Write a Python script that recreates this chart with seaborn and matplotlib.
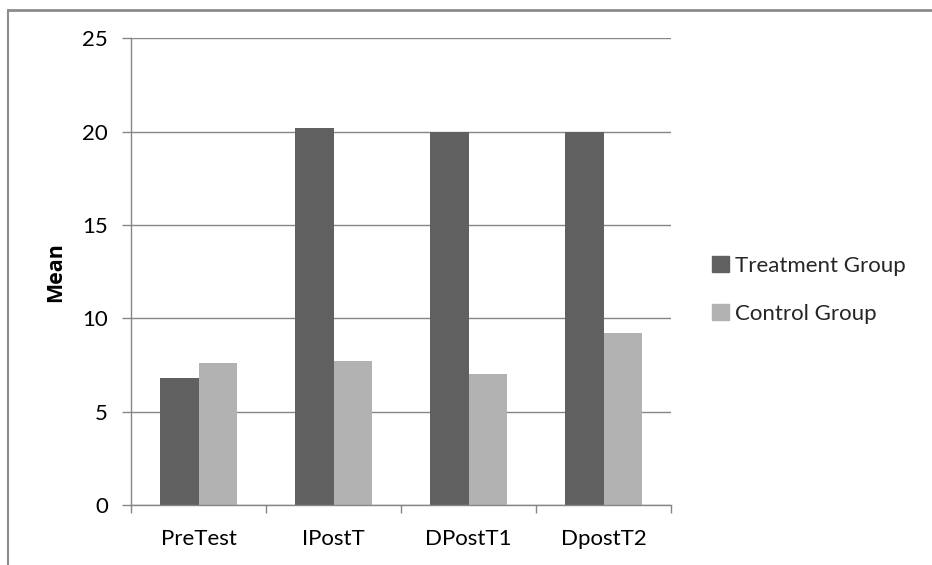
import matplotlib
matplotlib.use("Agg")
import matplotlib.pyplot as plt
import numpy as np
import pandas as pd
import seaborn as sns
from matplotlib.lines import Line2D
from matplotlib.ticker import FixedLocator

# data
tests = ["PreTest", "IPostT", "DPostT1", "DpostT2"]
treatment = [6.8, 20.2, 20.0, 20.0]
control = [7.6, 7.7, 7.0, 9.2]
groups = ["Treatment Group", "Control Group"]

df = pd.DataFrame({
    "test": tests * 2,
    "mean": treatment + control,
    "group": [groups[0]] * len(tests) + [groups[1]] * len(tests),
})

sns.set_theme(style="white")
plt.rcParams["font.family"] = ["Lato", "DejaVu Sans"]

fig = plt.figure(figsize=(9.32, 5.65), dpi=100)
ax = fig.add_axes([0.1406, 0.1062, 0.5794, 0.8257])

palette = {groups[0]: "#606060", groups[1]: "#b2b2b2"}
sns.barplot(data=df, x="test", y="mean", hue="group", palette=palette,
            width=0.57, saturation=1, ax=ax, legend=False, edgecolor="none")

ax.set_ylim(0, 25)
ax.set_xlim(-0.5, len(tests) - 0.5)
ax.set_yticks(np.arange(0, 26, 5))
ax.yaxis.grid(True, color="#868686", linewidth=1.0)
ax.set_axisbelow(True)

for side in ["top", "right"]:
    ax.spines[side].set_visible(False)
ax.spines["left"].set_color("#868686")
ax.spines["bottom"].set_color("#868686")
ax.spines["left"].set_linewidth(1.0)
ax.spines["bottom"].set_linewidth(1.0)

ax.tick_params(axis="y", which="major", length=6.5, width=1, color="#868686",
               direction="out", left=True, pad=10, labelsize=16, labelcolor="black")
ax.tick_params(axis="x", which="major", length=0, pad=17, labelsize=16, labelcolor="black")
ax.xaxis.set_minor_locator(FixedLocator(np.arange(-0.5, len(tests), 1)))
ax.tick_params(axis="x", which="minor", length=6, width=1, color="#868686",
               direction="out", bottom=True)

ax.set_xlabel("")
ax.set_ylabel("Mean", fontsize=15.5, fontweight="bold", color="black",
              family=["Open Sans", "DejaVu Sans"])
ax.yaxis.set_label_coords(-0.12, 0.5)

handles = [plt.Rectangle((0, 0), 1, 1, color=palette[g]) for g in groups]
fig.legend(handles, groups, loc="center left", bbox_to_anchor=(0.743, 0.487),
           frameon=False, fontsize=16, handlelength=0.75, handleheight=0.75,
           handletextpad=0.25, labelspacing=1.25)

# outer chart border (top and left edges visible)
fig.add_artist(Line2D([8 / 932, 1], [1 - 10 / 565, 1 - 10 / 565],
                      transform=fig.transFigure, color="#8c8c8c", linewidth=2))
fig.add_artist(Line2D([8 / 932, 8 / 932], [0, 1 - 10 / 565],
                      transform=fig.transFigure, color="#8c8c8c", linewidth=1.5))

fig.savefig("out.png", dpi=100, facecolor="white")
